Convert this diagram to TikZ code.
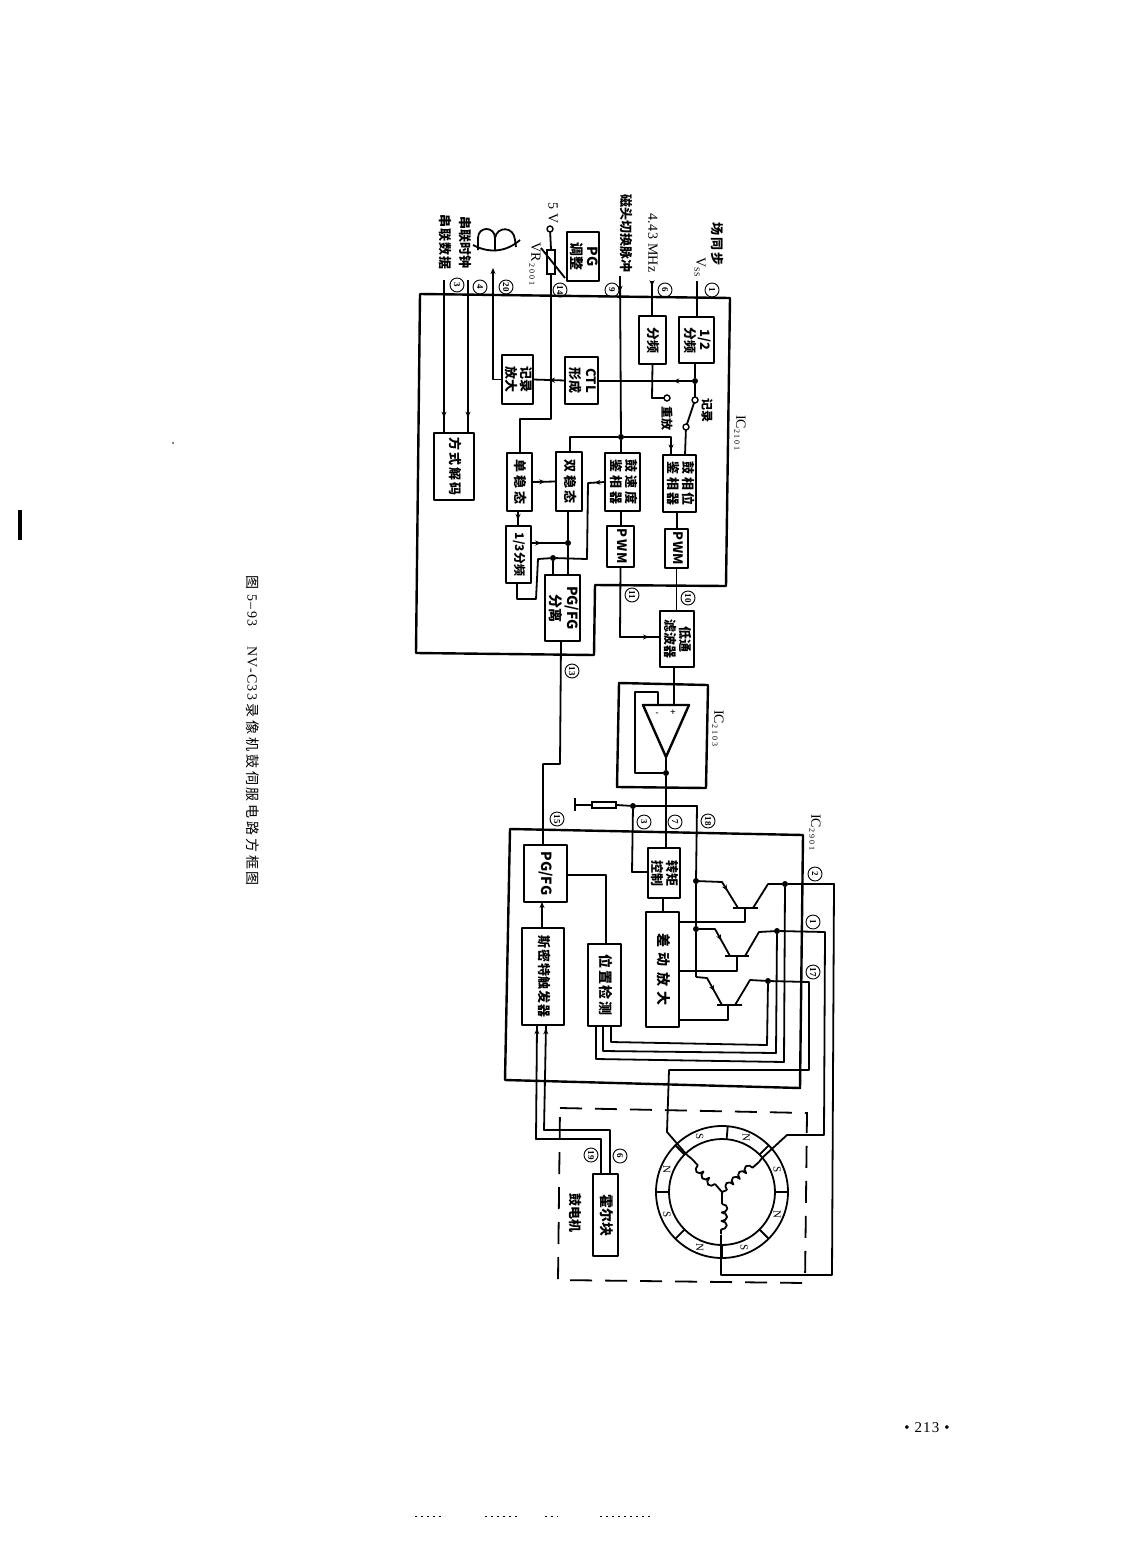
\documentclass[tikz,border=0pt]{standalone}
\usepackage{fontspec}
\usepackage{graphicx}
\setmainfont{Liberation Serif}
\newfontfamily\cjk{Noto Sans CJK SC}
\usetikzlibrary{calc,arrows.meta,decorations.markings,decorations.pathmorphing}
\newcommand\rt[3][13]{\rotatebox[origin=c]{-90}{\fontsize{#1}{#1}\selectfont\cjk\bfseries\addfontfeature{LetterSpace=#2}\begin{tabular}{@{}c@{}}#3\end{tabular}}}
\newcommand\sbs[1]{\raisebox{-2pt}{\fontsize{8}{8}\selectfont\addfontfeature{LetterSpace=25}#1}}
\tikzset{
 wire/.style={line width=1.8pt,line join=round},
 blk/.style={draw,line width=2.6pt,rectangle,inner sep=0pt,outer sep=0pt,line join=round},
 frame/.style={draw,line width=2.4pt,line join=round},
 oc/.style={circle,draw,line width=1.4pt,fill=white,inner sep=0pt,minimum size=6pt,outer sep=0pt},
 dot/.style={circle,fill=black,inner sep=0pt,minimum size=6pt,outer sep=0pt},
 cn/.style={circle,draw,line width=.9pt,inner sep=0pt,minimum size=14pt,rotate=-90,font=\fontsize{9}{9}\selectfont\bfseries},
 vtxt/.style={rotate=-90,inner sep=0pt,font=\fontsize{13}{13}\selectfont\cjk\bfseries},
 ltxt/.style={rotate=-90,inner sep=0pt,font=\fontsize{14}{14}\selectfont},
 marr/.style={postaction={decorate},decoration={markings,mark=at position #1 with {\arrow{Stealth[length=6pt,width=5pt]}}}},
 marr/.default=0.5,
 tip/.style={-{Stealth[length=6pt,width=5pt]}},
 bump/.style={decorate,decoration={bumps,segment length=17pt,amplitude=5.5pt}}
}
\begin{document}
\begin{tikzpicture}[x=1pt,y=-1pt]
\useasboundingbox (0,0) rectangle (1122,1568);
% frames
\draw[frame] (420,294) -- (730,298) -- (726,586) -- (595,585) -- (594,655) -- (416,653) -- cycle;
\draw[frame] (619,683) -- (708,685) -- (706,788) -- (617,787) -- cycle;
\draw[frame] (510,829) -- (803,835) -- (800,1088) -- (505,1080) -- cycle;
\draw[line width=1.8pt,dash pattern=on 22pt off 13pt] (560,1108) -- (807,1113) -- (805,1283) -- (558,1280) -- cycle;
% blocks
\node[blk,minimum width=35,minimum height=46] (half) at (696.5,340) {\rt[13]{0}{1/2\\分频}};
\node[blk,minimum width=27,minimum height=48] (fen) at (652.5,340) {\rt{0}{分频}};
\node[blk,minimum width=33,minimum height=47] (ctl) at (581.5,380.5) {\rt[13]{0}{CTL\\形成}};
\node[blk,minimum width=31,minimum height=49] (rec) at (517.5,379.5) {\rt[13]{0}{记录\\放大}};
\node[blk,minimum width=40,minimum height=67] (mode) at (454,466.5) {\rt[13]{15}{方式解码}};
\node[blk,minimum width=25,minimum height=58] (mono) at (519.5,482) {\rt[13]{20}{单稳态}};
\node[blk,minimum width=26,minimum height=59] (bi) at (569,481.5) {\rt[13]{20}{双稳态}};
\node[blk,minimum width=35,minimum height=58] (spd) at (622.5,482) {\rt[13]{20}{鼓速度\\鉴相器}};
\node[blk,minimum width=33,minimum height=57] (pha) at (679.5,483.5) {\rt[13]{20}{鼓相位\\鉴相器}};
\node[blk,minimum width=27,minimum height=41] (pwms) at (620.5,546.5) {\rt[13]{10}{PWM}};
\node[blk,minimum width=23,minimum height=39] (pwmp) at (676.5,548.5) {\rt[13]{5}{PWM}};
\node[blk,minimum width=25,minimum height=57] (div3) at (518.5,554.5) {\rt[12]{0}{1/3分频}};
\node[blk,minimum width=35,minimum height=66] (sep) at (562.5,608) {\rt[14]{0}{PG/FG\\分离}};
\node[blk,minimum width=34,minimum height=56] (lpf) at (677,639) {\rt[13]{0}{低通\\滤波器}};
\node[blk,minimum width=32,minimum height=50] (torq) at (664,873) {\rt[13]{0}{转矩\\控制}};
\node[blk,minimum width=43,minimum height=57] (pgfg) at (545.5,873.5) {\rt[14]{0}{PG/FG}};
\node[blk,minimum width=42,minimum height=97] (smt) at (543,976.5) {\rt[13]{6}{斯密特触发器}};
\node[blk,minimum width=33,minimum height=82] (pos) at (604.5,985) {\rt[14]{12}{位置检测}};
\node[blk,minimum width=33,minimum height=115] (diff) at (662.5,969.5) {\rt[14]{40}{差动放大}};
\node[blk,minimum width=25,minimum height=82] (hall) at (605.5,1215) {\rt[14]{0}{霍尔块}};
\node[blk,minimum width=32,minimum height=49] (pgadj) at (583,256.5) {\rt[14]{0}{PG\\调整}};
% top inputs
\coordinate (vsst) at (697,281);
\coordinate (mhzt) at (652,281);
\coordinate (headt) at (620,276);
\coordinate (sdt) at (444,280);
\coordinate (sct) at (468,280);
\coordinate (rect) at (493,268);
\node[oc] (v5) at (550,229) {};
\node[draw,line width=1.8pt,fill=white,inner sep=0,minimum width=8,minimum height=24] (vr) at (551,262) {};
\node[oc] (swa) at (695,400) {};
\node[oc] (swb) at (686,427) {};
\node[oc] (swc) at (667,398) {};
\node[dot] (j1) at (695,381) {};
\node[dot] (j2) at (621,437) {};
\node[dot] (j3) at (568,543) {};
\node[dot] (j4) at (553,558) {};
\draw[wire] (vsst) -- (half.north -| vsst);
\draw[wire,marr=.15] (mhzt) -- (fen.north -| mhzt);
\draw[wire,marr=.1] (headt) -- (j2);
\draw[wire] (j2) -- (spd.north -| j2);
\draw[wire] (j2) -- (570,437) -- (570,452);
\draw[wire,marr=.93] (j2) -- (671,437) -- (671,455);
\draw[wire,marr=.9] (sdt) -- (sdt |- mode.north);
\draw[wire,marr=.9] (sct) -- (sct |- mode.north);
\draw[wire,{Stealth[length=6pt,width=5pt]}-] (rect) -- (rect |- rec.west) -- (rec.west);
\draw[wire] (v5) -- (vr.north);
\draw[wire] (vr.south) -- (551,419) -- (520,419) -- (520,453);
\draw[wire] (541,248) -- (565,278);
\draw[wire] (j1 |- half.south) -- (j1) -- (swa);
\draw[wire,marr=.2] (j1) -- (ctl.east |- j1);
\draw[wire,marr=.5] (ctl.west) -- (rec.east);
\draw[wire] (fen.south) -- (652,398) -- (swc);
\draw[wire] (swa) -- (swb);
\draw[wire] (swb) -- (685,455);
\draw[wire,marr=.55] (mono.east) -- (bi.west);
\draw[wire] (bi.south -| j3) -- (j3) -- (sep.north -| j3);
\draw[wire,marr=.3] (div3.east |- j3) -- (j3);
\draw[wire,marr=.6] (mono.south -| 518,0) -- (div3.north -| 518,0);
\draw[wire,marr=.05] (spd.west) -- (588,483) -- (587,559) -- (j4) -- (538,559) -- (536,599) -- (517,599) -- (517,583);
\draw[wire] (j4) -- (553,575);
\draw[wire] (spd.south -| 621,0) -- (pwms.north -| 621,0);
\draw[wire,marr=.9] (pwms.south) -- (620,637) -- (lpf.west |- 0,637);
\draw[wire] (pwmp.north -| 677,0) -- (pha.south -| 677,0);
\draw[wire] (pwmp.south) -- (lpf.north -| pwmp.south);
% op amp
\coordinate (oa1) at (643,705);
\coordinate (oa2) at (689,705);
\coordinate (oa3) at (666,757);
\node[dot] (j5) at (666,773) {};
\draw[frame] (oa1) -- (oa2) -- (oa3) -- cycle;
\draw[wire] (lpf.south -| 674,0) -- (674,705);
\draw[wire] (658,705) -- (658,692) -- (635,692) -- (635,773) -- (j5);
\draw[wire] (oa3) -- (j5) -- (torq.north -| j5);
\node[font=\fontsize{9}{9}\selectfont\bfseries,inner sep=0] at (657,714) {-};
\node[font=\fontsize{10}{10}\selectfont\bfseries,inner sep=0] at (673,713) {+};
% PG line
\draw[wire] (sep.south -| 561,0) -- (560,764) -- (543,764) -- (pgfg.north -| 543,0);
\draw[wire,tip] (smt.north -| 542,0) -- (pgfg.south -| 542,0);
\draw[wire] (pos.north -| 606,0) -- (606,875) -- (pgfg.east |- 0,875);
% resistor ground
\coordinate (gnd) at (575,805);
\node[draw,line width=1.4pt,inner sep=0,minimum width=24,minimum height=6,fill=white] (r1) at (604,805) {};
\node[dot] (j6) at (633,806) {};
\draw[wire] (575,798) -- (575,811);
\draw[wire] (gnd) -- (r1.west);
\draw[wire] (r1.east) -- (j6) -- (697,806) -- (696,881);
\draw[wire] (j6) -- (632,872) -- (torq.west |- 0,872);
\draw[wire] (torq.south -| 663,0) -- (diff.north -| 663,0);
% transistors
\node[dot] (e1) at (696,881) {};
\node[dot] (e2) at (696,929) {};
\coordinate (e3) at (696,977);
\draw[wire] (e1) -- (e2) -- (e3);
\node[dot] (k1) at (785,884) {};
\node[dot] (k2) at (777,931) {};
\node[dot] (k3) at (768,981) {};
\draw[wire,line width=2.2pt] (733,908) -- (758,908);
\draw[wire,line width=2.2pt] (725,956) -- (749,956);
\draw[wire,line width=2.2pt] (717,1005) -- (742,1005);
\draw[wire,marr=.62] (e1) -- (722,882) -- (738,908);
\draw[wire,marr=.62] (e2) -- (715,929) -- (730,956);
\draw[wire,marr=.62] (e3) -- (707,978) -- (722,1005);
\draw[wire] (753,908) -- (768,884) -- (k1) -- (834,884) -- (832,1275) -- (721,1275) -- (721,1235);
\draw[wire] (745,956) -- (759,932) -- (k2) -- (825,932) -- (824,1135) -- (787,1135) -- (762,1158);
\draw[wire] (735,1005) -- (750,980) -- (k3) -- (809,982) -- (809,1070) -- (669,1070) -- (667,1132) -- (687,1155);
\draw[wire] (745,908) -- (745,922) -- (diff.east |- 0,922);
\draw[wire] (737,956) -- (737,971) -- (diff.east |- 0,971);
\draw[wire] (728,1005) -- (728,1020) -- (diff.east |- 0,1020);
\draw[wire] (pos.south -| 611,0) -- (611,1042) -- (767,1045) -- (k3);
\draw[wire] (pos.south -| 603,0) -- (603,1051) -- (776,1053) -- (k2);
\draw[wire] (pos.south -| 596,0) -- (596,1059) -- (784,1062) -- (k1);
% hall
\draw[wire,marr=.985] (hall.north -| 601,0) -- (601,1139) -- (536,1139) -- (537,1025);
\draw[wire,marr=.985] (hall.north -| 610,0) -- (610,1130) -- (544,1130) -- (546,1025);
% motor
\coordinate (mc) at (722,1192);
\draw[wire] (mc) circle (66pt);
\draw[wire] (mc) circle (53pt);
\foreach \a in {180,85,45,0,-45,-90,135,-135}
  \draw[wire] ($(mc)+(\a:53pt)$) -- ($(mc)+(\a:66pt)$);
\foreach \a/\l in {112/S,66/N,22/S,-22/N,-68/S,-112/N,-158/S,158/N}
  \node[rotate=-90,inner sep=0,font=\fontsize{11}{11}\selectfont] at ($(mc)+(\a:59.5pt)$) {\l};
\draw[wire] (mc) -- (715,1184);
\draw[wire,bump] (715,1184) -- (692,1159);
\draw[wire] (692,1159) -- (687,1155);
\draw[wire] (mc) -- (727,1190);
\draw[wire,bump] (727,1190) -- (759,1162);
\draw[wire] (759,1162) -- (762,1158);
\draw[wire] (mc) -- (722,1204);
\draw[wire,bump] (722,1204) -- (721,1234);
% head coil
\draw[wire] (473,245) .. controls (488,253) and (505,253) .. (520,240);
\draw[wire] (478,250) -- (478,238) .. controls (478,226) and (495,226) .. (495,238) -- (495,251);
\draw[wire] (495,238) .. controls (497,226) and (514,226) .. (515,240) -- (516,247);
% circled numbers
\node[cn] (n1) at (712,290) {1};
\node[cn] (n6) at (665,290) {6};
\node[cn] (n9) at (612,290) {9};
\node[cn] (n14) at (560,290) {14};
\node[cn] (n20) at (506,287) {20};
\node[cn] (n4) at (480,287) {4};
\node[cn] (n3) at (457,285) {3};
\node[cn] (n11) at (632,595) {11};
\node[cn] (n10) at (688,598) {10};
\node[cn] (n13) at (572,671) {13};
\node[cn] (n15) at (557,819) {15};
\node[cn] (n3b) at (644,822) {3};
\node[cn] (n7) at (675,822) {7};
\node[cn] (n18) at (708,821) {18};
\node[cn] (n2) at (815,874) {2};
\node[cn] (n1b) at (813,922) {1};
\node[cn] (n17) at (813,972) {17};
\node[cn] (n19) at (591,1155) {19};
\node[cn] (n6b) at (620,1156) {6};
% texts
\node[vtxt,font=\fontsize{13}{13}\selectfont\cjk\bfseries\addfontfeature{LetterSpace=15}] (t1) at (717,244) {场同步};
\node[ltxt] (t2) at (700,267) {V\raisebox{-2pt}{\fontsize{8}{8}\selectfont SS}};
\node[ltxt,font=\fontsize{14}{14}\selectfont\addfontfeature{LetterSpace=3}] (t3) at (653,243) {4.43 MHz};
\node[vtxt,font=\fontsize{13}{13}\selectfont\cjk\bfseries] (t4) at (626,233) {磁头切换脉冲};
\node[ltxt] (t5) at (553,213) {5 V};
\node[ltxt] (t6) at (535,264) {VR\,\sbs{2001}};
\node[vtxt] (t7) at (465,242) {串联时钟};
\node[vtxt,font=\fontsize{13}{13}\selectfont\cjk\bfseries\addfontfeature{LetterSpace=8}] (t8) at (445,242) {串联数据};
\node[vtxt,font=\fontsize{12}{12}\selectfont\cjk\bfseries] (t9) at (707,410) {记录};
\node[vtxt,font=\fontsize{12}{12}\selectfont\cjk\bfseries] (t10) at (667,418) {重放};
\node[ltxt] (t11) at (740,433) {IC\sbs{2101}};
\node[ltxt] (t12) at (718,728) {IC\sbs{2103}};
\node[ltxt] (t13) at (815,832) {IC\sbs{2901}};
\node[vtxt,font=\fontsize{13}{13}\selectfont\cjk\bfseries] (t14) at (575,1213) {鼓电机};
\node[rotate=-90,anchor=west,inner sep=0,font=\fontsize{14}{14}\selectfont] (cap) at (253,575) {{\cjk 图}\hspace{5pt}{\addfontfeature{LetterSpace=10}5--93\hspace{20pt}NV-C33} {\cjk\addfontfeature{LetterSpace=20}录像机鼓伺服电路方框图}};
\node[inner sep=0,font=\fontsize{15}{15}\selectfont\addfontfeature{LetterSpace=8}] (pg) at (927,1428) {• 213 •};
% marks
\fill (18,510) rectangle (22,540);
\fill (173,443) circle (.8pt);
\draw[line width=.8pt,dash pattern=on 2pt off 4pt] (415,1516) -- (445,1516) (485,1516) -- (520,1516) (545,1516) -- (558,1516) (600,1516) -- (650,1516);
\end{tikzpicture}
\end{document}
